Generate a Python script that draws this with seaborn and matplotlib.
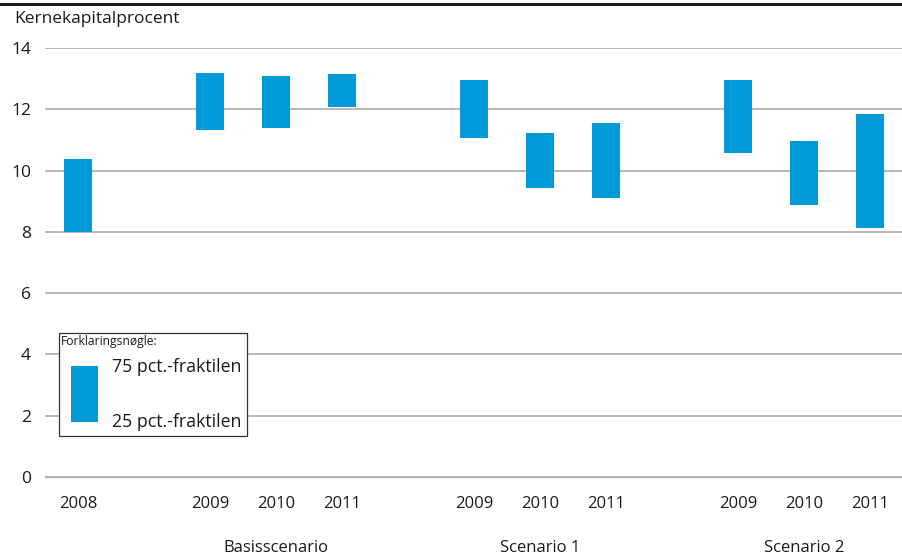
import matplotlib
matplotlib.use("Agg")
import matplotlib.pyplot as plt
from matplotlib.lines import Line2D
from matplotlib.patches import Rectangle
import numpy as np
import pandas as pd
import seaborn as sns

# Interquartile range (25th to 75th percentile) of the core capital ratio
years = ["2008", "2009", "2010", "2011", "2009", "2010", "2011", "2009", "2010", "2011"]
scenarios = ["Basisscenario", "Scenario 1", "Scenario 2"]
q25 = [8.0, 11.34, 11.40, 12.07, 11.05, 9.42, 9.09, 10.56, 8.89, 8.14]
q75 = [10.38, 13.20, 13.07, 13.14, 12.97, 11.21, 11.54, 12.97, 10.98, 11.86]
y_ticks = [0, 2, 4, 6, 8, 10, 12, 14]

# slot positions on the x axis (empty slots separate the scenarios)
slots = [0, 2, 3, 4, 6, 7, 8, 10, 11, 12]
scenario_slots = [3, 7, 11]

BLUE = "#009ad8"
GRID = "#b3b3b3"
TEXT = "#1a1a1a"
W, H = 902, 555

sns.set_theme(style="white")
plt.rcParams["font.family"] = ["Open Sans", "DejaVu Sans"]


def px(x, y):
    return x / W, 1 - y / H


df = pd.DataFrame({"pos": slots, "low": q25, "high": q75})
df["span"] = df["high"] - df["low"]

fig = plt.figure(figsize=(W / 100, H / 100), dpi=100)
ax_left, ax_bottom = px(45, 477)
ax_right, ax_top = px(45 + 13 * 66, 48)
ax = fig.add_axes([ax_left, ax_bottom, ax_right - ax_left, ax_top - ax_bottom])

sns.barplot(data=df, x="pos", y="span", bottom=df["low"].to_numpy(),
            native_scale=True, width=0.41, color=BLUE, saturation=1,
            errorbar=None, linewidth=0, ax=ax, zorder=3)

ax.set_xlim(-0.5, 12.5)
ax.set_ylim(0, 14)
ax.set_xlabel("")
ax.set_ylabel("")

# y axis
ax.set_yticks(y_ticks)
ax.set_yticklabels([str(v) for v in y_ticks])
ax.tick_params(axis="y", length=0, pad=10, labelsize=12.5, labelcolor=TEXT)
ax.yaxis.grid(True, color=GRID, linewidth=1.3)
ax.set_axisbelow(True)

# x axis: boundary ticks, year labels at bar centres
ax.set_xticks(np.arange(-0.5, 13, 1.0))
ax.set_xticklabels([])
ax.tick_params(axis="x", which="major", direction="in", length=4,
               width=0.8, color=GRID)
ax.set_xticks(slots, labels=years, minor=True)
ax.tick_params(axis="x", which="minor", length=0, pad=14, labelsize=12,
               labelcolor=TEXT)

for side in ["top", "right", "left"]:
    ax.spines[side].set_visible(False)
ax.spines["bottom"].set_color(GRID)
ax.spines["bottom"].set_linewidth(1.0)

for s, name in zip(scenario_slots, scenarios):
    ax.text(s, -71 / 429, name, transform=ax.get_xaxis_transform(),
            ha="center", va="center", fontsize=12, color=TEXT)

# heading and top rule
fig.add_artist(Line2D([0, 1], [px(0, 3.5)[1]] * 2, color="#1a1a1a",
                      linewidth=2.2, transform=fig.transFigure))
fig.text(*px(14, 19), "Kernekapitalprocent", fontsize=12.5, color=TEXT,
         va="center", ha="left")

# key box
bx0, by0 = px(59, 436)
bx1, by1 = px(247, 333)
fig.add_artist(Rectangle((bx0, by0), bx1 - bx0, by1 - by0, transform=fig.transFigure,
                         facecolor="white", edgecolor="#333333", linewidth=0.9,
                         zorder=5))
kx0, ky0 = px(71, 422)
kx1, ky1 = px(98, 366)
fig.add_artist(Rectangle((kx0, ky0), kx1 - kx0, ky1 - ky0, transform=fig.transFigure,
                         facecolor=BLUE, edgecolor="none", zorder=6))
fig.text(*px(61, 341), "Forklaringsnøgle:", fontsize=8.7, color=TEXT,
         va="center", ha="left", zorder=7)
fig.text(*px(112, 367), "75 pct.-fraktilen", fontsize=12.8, color=TEXT,
         va="center", ha="left", zorder=7)
fig.text(*px(112, 422), "25 pct.-fraktilen", fontsize=12.8, color=TEXT,
         va="center", ha="left", zorder=7)

fig.savefig("out.png", dpi=100)
